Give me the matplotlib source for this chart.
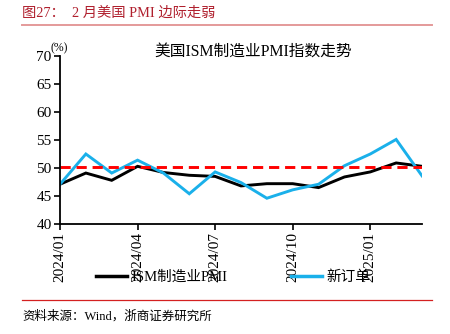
import matplotlib
matplotlib.use("Agg")
import matplotlib.pyplot as plt
from matplotlib.lines import Line2D

plt.rcParams['font.family'] = ['Liberation Serif', 'Noto Sans CJK SC']

# data
months = ['2024/01', '2024/02', '2024/03', '2024/04', '2024/05', '2024/06', '2024/07',
          '2024/08', '2024/09', '2024/10', '2024/11', '2024/12', '2025/01', '2025/02', '2025/03']
pmi = [47.1, 49.1, 47.8, 50.3, 49.2, 48.7, 48.5, 46.8, 47.2, 47.2, 46.5, 48.4, 49.3, 50.9, 50.3]
new_orders = [47.1, 52.5, 49.1, 51.4, 49.1, 45.4, 49.3, 47.4, 44.6, 46.1, 47.1, 50.4, 52.5, 55.1, 48.6]
ref_level = 50.2
tick_labels = ['2024/01', '2024/04', '2024/07', '2024/10', '2025/01']

fig = plt.figure(figsize=(4.5, 3.34), dpi=100)
ax = fig.add_axes([60 / 450, 1 - 224 / 334, 362 / 450, 168 / 334])

x = list(range(len(months)))
ax.plot(x, pmi, color='black', lw=2.1, label='ISM制造业PMI', solid_joinstyle='miter')
ax.plot(x, new_orders, color='#1AB0EA', lw=2.1, label='新订单', solid_joinstyle='miter')
ax.axhline(ref_level, color='#FF0000', lw=2.1, linestyle=(0, (3.5, 2)))

ax.set_xlim(0, len(months) - 1)
ax.set_ylim(40, 70)
ax.set_yticks(range(40, 71, 5))
ax.set_xticks([months.index(t) for t in tick_labels])
ax.set_xticklabels(tick_labels, rotation=90)
ax.tick_params(axis='both', direction='out', length=4, width=1.2, labelsize=11, pad=2)
for s in ['top', 'right']:
    ax.spines[s].set_visible(False)
for s in ['left', 'bottom']:
    ax.spines[s].set_linewidth(1.3)

fig.text(59 / 450, 1 - 48 / 334, '(%)', fontsize=8.5, ha='center', va='center')
fig.text(253 / 450, 1 - 52 / 334, '美国ISM制造业PMI指数走势', fontsize=11.3, ha='center', va='center')

# legend
handles = [Line2D([], [], color='black', lw=2.5), Line2D([], [], color='#1AB0EA', lw=2.5)]
fig.legend(handles, ['ISM制造业PMI', '新订单'], loc='center left',
           bbox_to_anchor=(96 / 450, 1 - 277 / 334), ncol=2, frameon=False,
           fontsize=10.5, handlelength=2.1, handletextpad=0.3, columnspacing=4.4,
           borderpad=0, borderaxespad=0)

# header / footer
fig.text(22 / 450, 1 - 13 / 334, '图27：  2 月美国 PMI 边际走弱', fontsize=10.3,
         color='#B0202E', ha='left', va='center')
fig.add_artist(Line2D([22 / 450, 432 / 450], [1 - 25 / 334, 1 - 25 / 334],
                      color='#E49A9A', lw=1.4))
fig.add_artist(Line2D([22 / 450, 432 / 450], [1 - 300 / 334, 1 - 300 / 334],
                      color='#D42020', lw=0.9))
fig.text(22 / 450, 1 - 316 / 334, '资料来源：Wind，浙商证券研究所', fontsize=9,
         ha='left', va='center')

fig.savefig('out.png', dpi=100)
